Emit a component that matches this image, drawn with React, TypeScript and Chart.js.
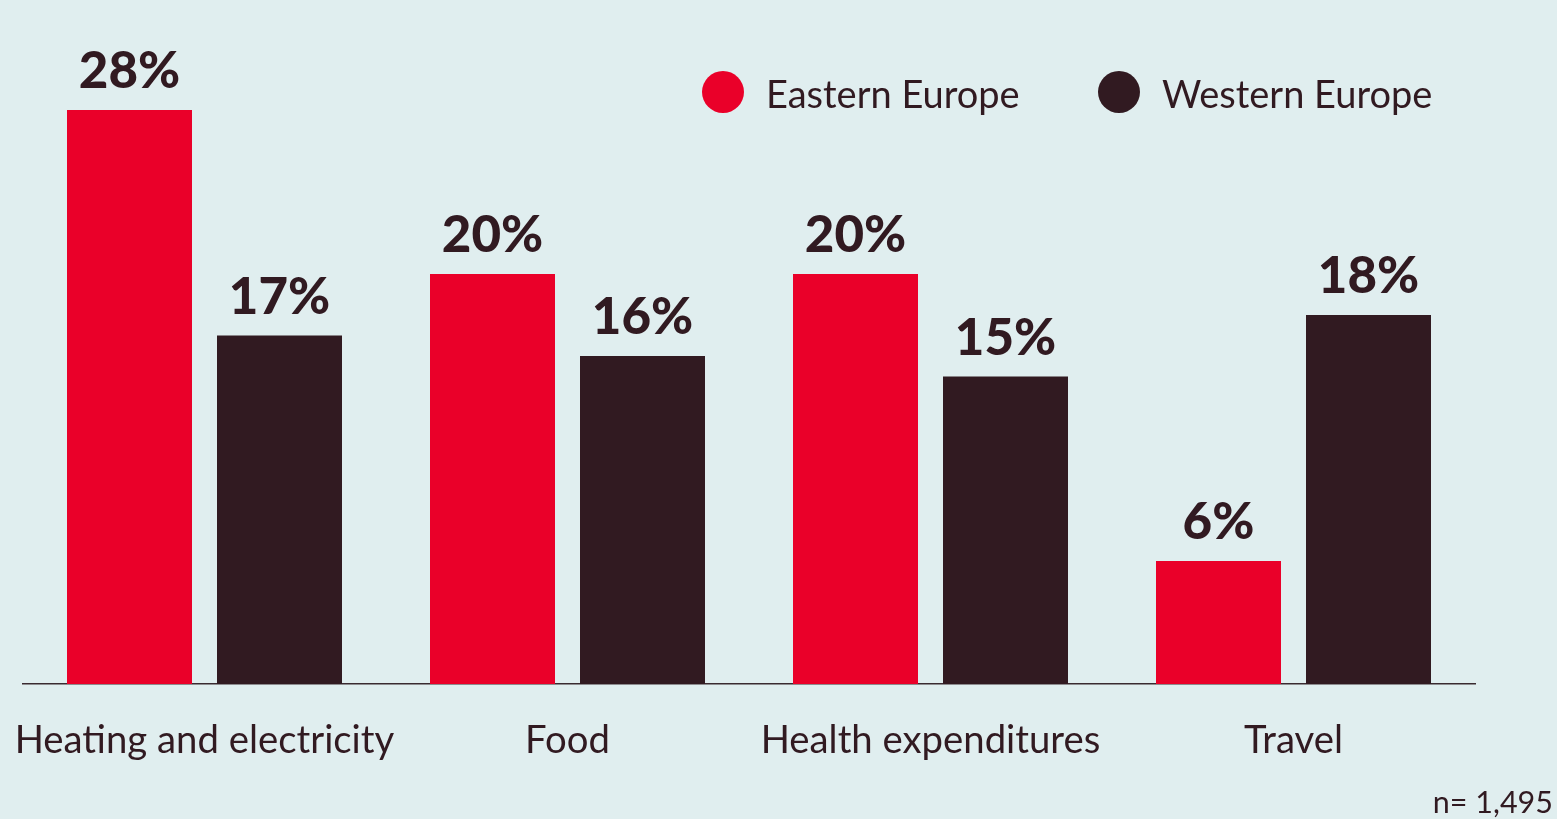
import React, { useEffect, useRef } from "react";
import { Chart, registerables } from "chart.js";

Chart.register(...registerables);

const categories = ["Heating and electricity", "Food", "Health expenditures", "Travel"];
const seriesNames = ["Eastern Europe", "Western Europe"];
const easternValues = [28, 20, 20, 6];
const westernValues = [17, 16, 15, 18];
const yMin = 0;
const yMax = 30;
const sampleNote = "n= 1,495";

const BG = "#e0eeef";
const RED = "#ea0029";
const DARK = "#311a21";
const FONT = "Lato";

const overlayPlugin = {
  id: "overlay",
  afterDatasetsDraw(chart: any) {
    const ctx = chart.ctx;
    ctx.save();
    // data labels
    ctx.font = `900 51px ${FONT}`;
    ctx.fillStyle = DARK;
    ctx.textAlign = "center";
    ctx.textBaseline = "alphabetic";
    chart.data.datasets.forEach((ds: any, di: number) => {
      const meta = chart.getDatasetMeta(di);
      meta.data.forEach((bar: any, i: number) => {
        ctx.fillText(`${ds.data[i]}%`, bar.x, bar.y - 22);
      });
    });
    // legend
    const legendX = [723, 1119];
    ctx.font = `400 38px ${FONT}`;
    ctx.textAlign = "left";
    chart.data.datasets.forEach((ds: any, di: number) => {
      ctx.fillStyle = ds.backgroundColor;
      ctx.beginPath();
      ctx.arc(legendX[di], 92, 21, 0, Math.PI * 2);
      ctx.fill();
      ctx.fillStyle = DARK;
      ctx.fillText(ds.label, legendX[di] + 43, 108);
    });
    // note
    ctx.font = `400 30.5px ${FONT}`;
    ctx.textAlign = "right";
    ctx.fillText(sampleNote, 1553, 813);
    ctx.restore();
  },
};

export default function App() {
  const ref = useRef<HTMLCanvasElement>(null);
  useEffect(() => {
    if (!ref.current) return;
    const chart = new Chart(ref.current, {
      type: "bar",
      data: {
        labels: categories,
        datasets: [
          { label: seriesNames[0], data: easternValues, backgroundColor: RED },
          { label: seriesNames[1], data: westernValues, backgroundColor: DARK },
        ],
      },
      options: {
        animation: false,
        responsive: true,
        maintainAspectRatio: false,
        layout: { padding: { left: 23, right: 82, top: 69, bottom: 0 } },
        datasets: {
          bar: { categoryPercentage: 300 / 363, barPercentage: 125 / 150 },
        },
        plugins: { legend: { display: false }, tooltip: { enabled: false } },
        scales: {
          x: {
            grid: { display: false, drawTicks: false },
            border: { display: true, color: "#3a2a30", width: 1.5 },
            ticks: {
              color: DARK,
              font: { family: FONT, size: 38.3, weight: "400" },
              padding: 34,
              maxRotation: 0,
              minRotation: 0,
              autoSkip: false,
            },
            afterFit: (scale: any) => {
              scale.height = 135;
              scale.paddingLeft = 0;
              scale.paddingRight = 0;
            },
          },
          y: { display: false, min: yMin, max: yMax },
        },
      },
      plugins: [overlayPlugin],
    });
    return () => chart.destroy();
  }, []);
  return (
    <div style={{ position: "fixed", left: 0, top: 0, width: 1557, height: 819, background: BG }}>
      <canvas ref={ref} />
    </div>
  );
}
